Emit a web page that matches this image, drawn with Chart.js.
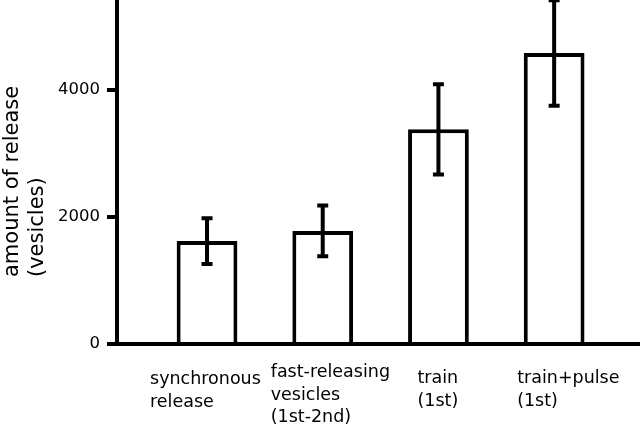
<!DOCTYPE html>
<html>
<head>
<meta charset="utf-8">
<script src="https://cdn.jsdelivr.net/npm/chart.js@4/dist/chart.umd.min.js"></script>
<style>
  body { margin: 0; background: #fff; }
  #wrap { width: 640px; height: 427px; }
</style>
</head>
<body>
<div id="wrap"><canvas id="chart" width="640" height="427"></canvas></div>
<script>
// values
const categories = [
    ['synchronous', 'release'],
    ['fast-releasing', 'vesicles', '(1st-2nd)'],
    ['train', '(1st)'],
    ['train+pulse', '(1st)']
];
const means = [1620, 1780, 3380, 4580];
const errors = [360, 400, 710, 830];
const yTicks = [0, 2000, 4000];
const yTitle = ['amount of release', '(vesicles)'];

// hand placement of the category text, px from bar centre / axis
const labelNudge = [[-57, 40], [-52, 33], [-21, 39], [-37, 39]];

const FONT = '"DejaVu Sans", Verdana, sans-serif';

// error bars with small caps
const errorBars = {
    id: 'errorBars',
    afterDatasetsDraw(chart) {
        const ctx = chart.ctx;
        const y = chart.scales.y;
        const meta = chart.getDatasetMeta(0);
        ctx.save();
        ctx.strokeStyle = '#000';
        ctx.lineWidth = 4;
        ctx.lineCap = 'butt';
        meta.data.forEach((bar, i) => {
            const top = y.getPixelForValue(means[i] + errors[i]);
            const bot = y.getPixelForValue(means[i] - errors[i]);
            ctx.beginPath();
            ctx.moveTo(bar.x, top);
            ctx.lineTo(bar.x, bot);
            ctx.moveTo(bar.x - 5.5, top);
            ctx.lineTo(bar.x + 5.5, top);
            ctx.moveTo(bar.x - 5.5, bot);
            ctx.lineTo(bar.x + 5.5, bot);
            ctx.stroke();
        });
        ctx.restore();
    }
};

// multi-line category labels and the two-line y title
const textLayer = {
    id: 'textLayer',
    afterDraw(chart) {
        const ctx = chart.ctx;
        const area = chart.chartArea;
        const meta = chart.getDatasetMeta(0);
        ctx.save();
        ctx.fillStyle = '#000';
        ctx.textAlign = 'left';
        ctx.textBaseline = 'alphabetic';
        ctx.font = '17.5px ' + FONT;
        meta.data.forEach((bar, i) => {
            const x = bar.x + labelNudge[i][0];
            const y0 = area.bottom + labelNudge[i][1];
            categories[i].forEach((line, j) => ctx.fillText(line, x, y0 + j * 22.5));
        });

        ctx.font = '21px ' + FONT;
        yTitle.forEach((line, j) => {
            ctx.save();
            ctx.translate(17.5 + j * 25, area.bottom - 67);
            ctx.rotate(-Math.PI / 2);
            ctx.fillText(line, 0, 0);
            ctx.restore();
        });
        ctx.restore();
    }
};

new Chart(document.getElementById('chart'), {
    type: 'bar',
    data: {
        datasets: [{
            data: means.map((v, i) => ({ x: i, y: v })),
            backgroundColor: '#fff',
            borderColor: '#000',
            borderWidth: 4,
            borderSkipped: 'start',
            barPercentage: 1,
            categoryPercentage: 0.525
        }]
    },
    options: {
        responsive: false,
        animation: false,
        devicePixelRatio: 1,
        layout: { padding: { top: 1, left: 0, right: 0, bottom: 0 } },
        plugins: {
            legend: { display: false },
            tooltip: { enabled: false }
        },
        scales: {
            x: {
                type: 'linear',
                offset: false,
                min: -0.778,
                max: 3.742,
                afterBuildTicks: s => { s.ticks = categories.map((c, i) => ({ value: i })); },
                grid: { display: false, offset: false },
                ticks: { display: false },
                border: { display: true, color: '#000', width: 4 },
                afterFit: s => {
                    s.height = 83;
                    s.paddingLeft = 0; s.paddingRight = 0;
                    s.paddingTop = 0; s.paddingBottom = 0;
                }
            },
            y: {
                min: 0,
                max: 5400,
                afterBuildTicks: s => { s.ticks = yTicks.map(v => ({ value: v })); },
                ticks: {
                    color: '#000',
                    padding: 7,
                    font: { family: FONT, size: 16.5 },
                    callback: v => String(v)
                },
                grid: {
                    drawOnChartArea: false,
                    drawTicks: true,
                    tickLength: 10,
                    lineWidth: 4,
                    color: '#000'
                },
                border: { display: true, color: '#000', width: 4 },
                afterFit: s => {
                    s.width = 117;
                    s.paddingLeft = 0; s.paddingRight = 0;
                    s.paddingTop = 0; s.paddingBottom = 0;
                }
            }
        }
    },
    plugins: [errorBars, textLayer]
});
</script>
</body>
</html>
